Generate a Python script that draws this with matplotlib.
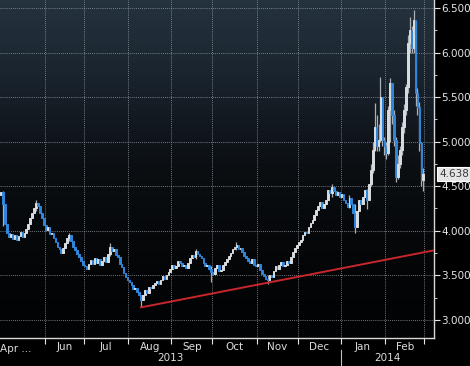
import numpy as np
import pandas as pd
import matplotlib
matplotlib.use("Agg")
import matplotlib.pyplot as plt
from matplotlib.colors import LinearSegmentedColormap
from matplotlib.transforms import blended_transform_factory

# daily closes, first trading day 2013-05-01
closes = [
    4.43, 4.30, 4.08, 3.98, 3.93, 3.96, 3.91, 3.95, 3.90, 3.94, 3.99, 3.93, 3.97, 4.02,
    4.08, 4.14, 4.20, 4.26, 4.31, 4.28, 4.20, 4.14, 4.06, 4.01,
    4.04, 3.96, 3.98, 3.92, 3.87, 3.82, 3.79, 3.75, 3.81, 3.86, 3.92, 3.95,
    3.88, 3.82, 3.78, 3.74, 3.70, 3.66, 3.62, 3.60, 3.57, 3.63, 3.67,
    3.63, 3.69, 3.64, 3.68, 3.62, 3.66, 3.70, 3.65, 3.74, 3.82, 3.77, 3.80, 3.73,
    3.70, 3.63, 3.59, 3.53, 3.48, 3.45, 3.42, 3.39, 3.35, 3.36, 3.31, 3.28, 3.22,
    3.28, 3.34, 3.30, 3.37, 3.36, 3.39, 3.41, 3.44, 3.40, 3.45, 3.49, 3.46, 3.50,
    3.54, 3.57, 3.62, 3.58, 3.60, 3.66, 3.64, 3.60, 3.62, 3.58, 3.64, 3.69,
    3.73, 3.70, 3.77, 3.74, 3.72, 3.69, 3.64, 3.60, 3.62, 3.57, 3.54, 3.52, 3.58,
    3.61, 3.55, 3.56, 3.61, 3.65, 3.68, 3.72, 3.75, 3.79, 3.82, 3.84, 3.80, 3.81,
    3.76, 3.72, 3.69, 3.66, 3.64, 3.68, 3.62, 3.60, 3.63, 3.56, 3.52, 3.49, 3.46, 3.45,
    3.50, 3.48, 3.55, 3.60, 3.57, 3.62, 3.65, 3.60, 3.62, 3.66, 3.64, 3.71, 3.76, 3.81,
    3.84, 3.87, 3.90, 3.95, 3.99, 3.97, 4.04, 4.09, 4.12, 4.18, 4.23, 4.28, 4.32,
    4.26, 4.30, 4.35, 4.46, 4.42, 4.49, 4.45, 4.40, 4.43, 4.38, 4.41, 4.35, 4.31, 4.27,
    4.37, 4.30, 4.20, 4.04, 4.22, 4.35, 4.30, 4.38, 4.46, 4.35, 4.52, 4.68, 4.91, 5.17,
    4.95, 5.02, 5.50, 5.02, 4.95, 4.87, 5.36, 5.66, 5.30, 5.02, 4.60, 4.75, 4.91, 5.17,
    5.36, 5.61, 6.11, 6.25, 6.05, 6.37, 5.55, 5.39, 4.98, 4.57, 4.638,
]
first_open = 4.40

# visible wick extremes (index into closes)
wick_idx = [1, 18, 35, 56, 72, 100, 108, 121, 137, 170, 179, 182, 188,
            190, 191, 192, 193, 194, 195, 196, 197, 198, 199, 200, 201, 202, 203,
            204, 205, 206, 207, 208, 209, 210, 211, 212, 213, 214, 215, 216, 217]
wick_low = [4.05, 4.22, 3.88, 3.72, 3.14, 3.68, 3.43, 3.78, 3.40, 4.38, 4.25, 3.98, 4.24,
            4.50, 4.65, 4.90, 4.90, 4.90, 5.00, 4.95, 4.85, 4.80, 4.85, 5.00, 5.20, 4.95, 4.55,
            4.58, 4.70, 4.85, 5.10, 5.30, 5.55, 6.00, 6.00, 6.00, 5.40, 5.30, 4.90, 4.50, 4.45]
wick_high = [4.45, 4.35, 3.98, 3.86, 3.28, 3.80, 3.60, 3.87, 3.50, 4.52, 4.40, 4.30, 4.47,
             4.75, 5.00, 5.43, 5.30, 5.20, 5.73, 5.40, 5.05, 5.00, 5.40, 5.72, 5.55, 5.35, 5.05,
             4.85, 4.95, 5.22, 5.42, 5.65, 6.20, 6.40, 6.30, 6.48, 6.35, 5.60, 5.45, 5.00, 4.70]

# support line drawn on the chart
trend_x = [72, 222.5]
trend_y = [3.14, 3.78]

last_price = 4.638
y_ticks = [3.0, 3.5, 4.0, 4.5, 5.0, 5.5, 6.0, 6.5]
month_names = ["Apr ...", "Jun", "Jul", "Aug", "Sep", "Oct", "Nov", "Dec", "Jan", "Feb"]
years = ["2013", "2014"]

dates = pd.bdate_range("2013-05-01", periods=len(closes))
opens = [first_open] + closes[:-1]
idx = np.arange(len(closes))

month_start = [i for i in range(1, len(dates)) if dates[i].month != dates[i - 1].month]
month_start.append(len(dates))
year_start = [i for i in month_start[:-1] if dates[i].year == 2014][0]

XMIN, XMAX = -0.5, 222.5
YMIN, YMAX = 2.796, 6.59

fig = plt.figure(figsize=(4.70, 3.66), dpi=100, facecolor="#000000")
ax = fig.add_axes([0.0, 28 / 366, 434 / 470, 338 / 366])
ax.set_xlim(XMIN, XMAX)
ax.set_ylim(YMIN, YMAX)

# dark blue-grey to black background gradient
cmap = LinearSegmentedColormap.from_list("bg", ["#020304", "#0b0f13", "#1a242e", "#25333f"])
grad = np.linspace(0, 1, 256) ** 1.6
ax.imshow(grad[:, None], aspect="auto", cmap=cmap, origin="lower",
          extent=[XMIN, XMAX, YMIN, YMAX], zorder=0)

grid_kw = dict(color="#949ca4", linewidth=0.6, linestyle=(0, (1, 1.5)), zorder=1)
for y in y_ticks:
    ax.axhline(y, **grid_kw)
for m in month_start:
    ax.axvline(m - 0.5, **grid_kw)

# wicks
ax.vlines(wick_idx, wick_low, wick_high, color="#a9afb5", linewidth=0.9, zorder=2)

# candle bodies
body_lo = np.minimum(opens, closes)
body_h = np.abs(np.array(closes) - np.array(opens))
up = np.array(closes) >= np.array(opens)
colors = np.where(up, "#d9dcdf", "#2f86dc")
ax.bar(idx, body_h, bottom=body_lo, width=0.85, color=colors,
       edgecolor=colors, linewidth=0.7, zorder=3)

ax.plot(trend_x, trend_y, color="#c8262c", linewidth=1.4, zorder=4)

# axes styling
for side in ["top", "left"]:
    ax.spines[side].set_visible(False)
for side in ["right", "bottom"]:
    ax.spines[side].set_color("#d8d8d8")
    ax.spines[side].set_linewidth(1.0)

ax.yaxis.tick_right()
ax.set_yticks(y_ticks)
ax.set_yticklabels([f"{v:.3f}" for v in y_ticks])
ax.set_yticks([v + 0.25 for v in y_ticks[:-1]], minor=True)
ax.tick_params(axis="y", which="major", colors="#e6e6e6", labelsize=7.5, length=4, pad=1.5)
ax.tick_params(axis="y", which="minor", colors="#e6e6e6", length=2.5)

ax.set_xticks([m - 0.5 for m in month_start])
ax.set_xticklabels([])
bounds = [m - 0.5 for m in month_start]
centers = [(a + b) / 2 for a, b in zip(bounds[:-1], bounds[1:])]
ax.set_xticks(centers, minor=True)
ax.set_xticklabels(month_names[1:], minor=True)
ax.tick_params(axis="x", which="major", colors="#e6e6e6", length=4)
ax.tick_params(axis="x", which="minor", length=0, labelcolor="#dcdcdc", labelsize=7.5, pad=3)

trans = blended_transform_factory(ax.transData, ax.transAxes)
ax.text(XMIN, -0.032, month_names[0], transform=trans, ha="left", va="center",
        color="#dcdcdc", fontsize=7.5)
ax.text((XMIN + year_start - 0.5) / 2, -0.058, years[0], transform=trans,
        ha="center", va="center", color="#dcdcdc", fontsize=7.5)
ax.text((year_start - 0.5 + XMAX) / 2, -0.058, years[1], transform=trans,
        ha="center", va="center", color="#dcdcdc", fontsize=7.5)
ax.plot([year_start - 0.5, year_start - 0.5], [-0.035, -0.085], transform=trans,
        color="#bfbfbf", linewidth=0.8, clip_on=False)

trans_y = blended_transform_factory(ax.transAxes, ax.transData)
ax.text(1.012, last_price, f"{last_price:.3f}", transform=trans_y, ha="left", va="center",
        color="#3a3a3a", fontsize=7.5,
        bbox=dict(boxstyle="square,pad=0.2", facecolor="#e4e4e4", edgecolor="#ffffff", linewidth=0.8))

fig.savefig("out.png", dpi=100, facecolor=fig.get_facecolor())
